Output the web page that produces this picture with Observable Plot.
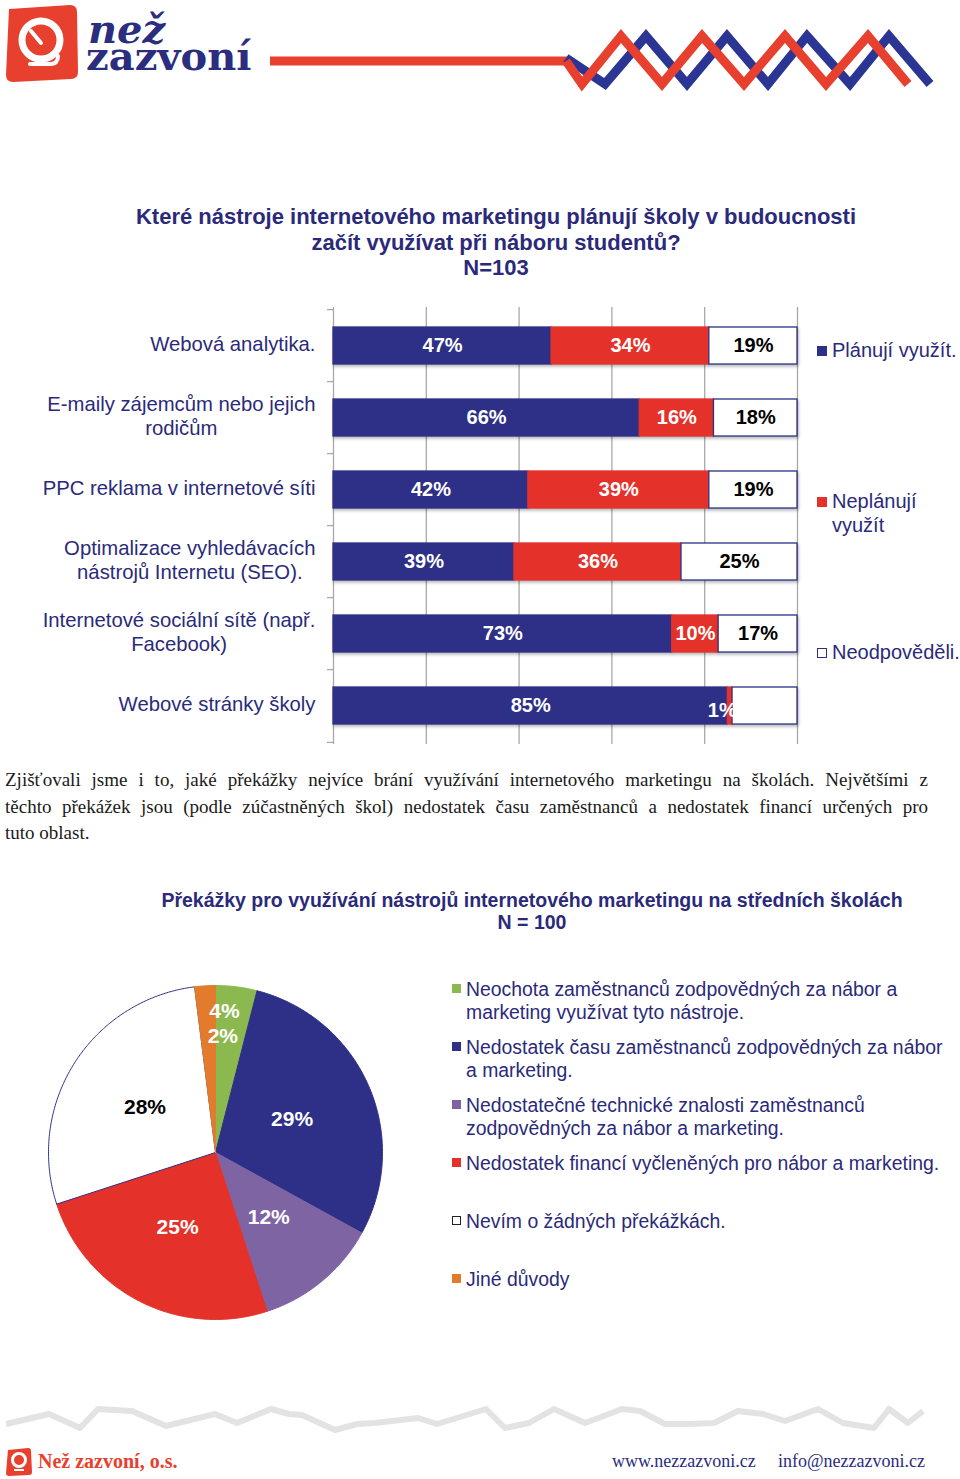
<!DOCTYPE html>
<html><head><meta charset="utf-8">
<script src="https://cdn.jsdelivr.net/npm/d3@7"></script>
<script src="https://cdn.jsdelivr.net/npm/@observablehq/plot@0.6"></script>
<style>
body{margin:0;background:#fff;}
#page{position:relative;width:960px;height:1479px;overflow:hidden;background:#fff;font-family:"Liberation Sans",Arial,sans-serif;color:#2b2a7a;}
.abs{position:absolute;}
.brand{left:86px;top:14.7px;font-family:"DejaVu Serif",serif;font-weight:bold;font-size:40px;line-height:27px;color:#2b2d7f;white-space:nowrap;}
.t1{left:32px;width:928px;top:204px;text-align:center;font-weight:bold;font-size:22px;line-height:25.5px;}
.t2{left:52px;width:960px;top:889px;text-align:center;font-weight:bold;font-size:19.5px;line-height:22px;}
.para{left:5px;width:923px;top:767px;font-family:"Liberation Serif","Times New Roman",serif;font-size:19px;line-height:26.5px;color:#1a1a1a;}
.para div.j{text-align:justify;text-align-last:justify;}
.lg{font-size:20px;line-height:24px;}
.sq{position:absolute;width:10px;height:10px;box-sizing:border-box;}
.plg{font-size:19.4px;line-height:22.5px;}
.psq{position:absolute;width:9px;height:9px;box-sizing:border-box;}
#bar g[aria-label="bar"]{filter:drop-shadow(1px 2px 1.5px rgba(0,0,0,0.28));}
.foot{font-family:"Liberation Serif","Times New Roman",serif;font-size:18px;}
</style></head><body><div id="page">

<svg class="abs" style="left:0;top:0" width="960" height="100">
  <path d="M9,9 L70,5 Q77,5 77,12 L78,72 Q78,79 71,79 L13,82 Q6,82 6,75 Z" fill="#e8402e"/>
  <circle cx="41" cy="40" r="19" fill="#e8402e" stroke="#fff" stroke-width="7"/>
  <line x1="41" y1="43" x2="31" y2="31" stroke="#fff" stroke-width="4" stroke-linecap="round"/>
  <path d="M30,64 L50,64 M50,64 Q58,64 58,56" stroke="#fff" stroke-width="4" fill="none" stroke-linecap="round"/>
  <line x1="270" y1="61" x2="568" y2="61" stroke="#e8402e" stroke-width="9"/>
  <polyline points="566,58 605,84 646,36 687,84 727,36 768,84 807,36 850,84 889,36 930,84" fill="none" stroke="#2b3594" stroke-width="9" stroke-linejoin="miter"/>
  <polyline points="566,61 582,84 621,36 662,84 702,36 744,84 785,36 826,84 868,36 908,84" fill="none" stroke="#e8402e" stroke-width="9" stroke-linejoin="miter"/>
</svg>
<div class="abs brand"><span style="font-style:italic;padding-left:2px;">než</span><br>zazvoní</div>

<div class="abs t1">Které nástroje internetového marketingu plánují školy v budoucnosti<br>začít využívat při náboru studentů?<br>N=103</div>

<div id="bar" class="abs" style="left:0;top:290px;"></div>

<div id="barLegend"></div>

<div class="abs para">
  <div class="j">Zjišťovali jsme i to, jaké překážky nejvíce brání využívání internetového marketingu na školách. Největšími z</div>
  <div class="j">těchto překážek jsou (podle zúčastněných škol) nedostatek času zaměstnanců a nedostatek financí určených pro</div>
  <div>tuto oblast.</div>
</div>

<div class="abs t2">Překážky pro využívání nástrojů internetového marketingu na středních školách<br>N = 100</div>

<div id="pie" class="abs" style="left:45px;top:982px;"></div>
<div id="pieLegend"></div>

<svg class="abs" style="left:0;top:1395px" width="960" height="84">
  <polyline transform="translate(0,-1395)" points="6,1424 49,1414 80,1428 98,1409 132,1411 166,1426 215,1414 237,1423 271,1409 289,1414 302,1415 335,1430 357,1424 375,1423 418,1418 437,1424 486,1409 505,1428 529,1423 554,1409 585,1423 622,1409 640,1411 665,1424 689,1424 714,1423 738,1411 763,1414 785,1421 818,1409 843,1423 874,1428 889,1409 908,1423 923,1411" fill="none" stroke="#e3e3e3" stroke-width="6" stroke-linejoin="round"/>
  <path transform="translate(0,-1395)" d="M8,1450 L28,1448 Q31,1448 31,1451 L32,1472 Q32,1475 29,1475 L9,1476 Q6,1476 6,1473 Z" fill="#e8402e"/>
  <circle transform="translate(0,-1395)" cx="19" cy="1460" r="6.5" fill="#e8402e" stroke="#fff" stroke-width="3"/>
  <line transform="translate(0,-1395)" x1="14" y1="1470" x2="24" y2="1470" stroke="#fff" stroke-width="2"/>
</svg>
<div class="abs foot" style="left:38px;top:1450px;color:#e8402e;font-weight:bold;font-size:20px;">Než zazvoní, o.s.</div>
<div class="abs foot" style="left:612px;top:1451px;color:#2b2d7f;">www.nezzazvoni.cz</div>
<div class="abs foot" style="left:778px;top:1451px;color:#2b2d7f;">info@nezzazvoni.cz</div>

</div>
<script>
// ---------- Data: bar chart ----------
const tools = [
  "Webová analytika.",
  "E-maily zájemcům nebo jejich\nrodičům",
  "PPC reklama v internetové síti",
  "Optimalizace vyhledávacích\nnástrojů Internetu (SEO).",
  "Internetové sociální sítě (např.\nFacebook)",
  "Webové stránky školy"
];
const seriesNames = ["Plánují využít.", "Neplánují\nvyužít", "Neodpověděli."];
const planuji      = [47, 66, 42, 39, 73, 85];
const neplanuji    = [34, 16, 39, 36, 10, 1];
const neodpovedeli = [19, 18, 19, 25, 17, 14];
const labelShown   = [[1,1,1],[1,1,1],[1,1,1],[1,1,1],[1,1,1],[1,1,0]];
const xTicks = [0, 20, 40, 60, 80, 100];

// ---------- Data: pie chart ----------
const causes = [
  "Neochota zaměstnanců zodpovědných za nábor a\nmarketing využívat tyto nástroje.",
  "Nedostatek času zaměstnanců zodpovědných za nábor\na marketing.",
  "Nedostatečné technické znalosti zaměstnanců\nzodpovědných za nábor a marketing.",
  "Nedostatek financí vyčleněných pro nábor a marketing.",
  "Nevím o žádných překážkách.",
  "Jiné důvody"
];
const causeValues = [4, 29, 12, 25, 28, 2];

// ---------- Styles ----------
const NAVY = "#2e3087", RED = "#e4322b", GRID = "#a8a8a8", TEXT = "#2b2a7a";
const seriesFill = [NAVY, RED, "#ffffff"];
const seriesText = ["white", "white", "black"];
const causeColors = ["#8cb94f", NAVY, "#7f64a4", RED, "#ffffff", "#e27c2c"];
const causeTextColors = ["white", "white", "white", "white", "black", "white"];
const FONT = "'Liberation Sans', Arial, sans-serif";

// ---------- Bar chart ----------
const rows = [];
tools.forEach((t, i) => {
  [planuji[i], neplanuji[i], neodpovedeli[i]].forEach((v, s) =>
    rows.push({tool: t, s, value: v, shown: labelShown[i][s]}));
});
const pct = d => d.value + "%";

const bar = Plot.plot({
  width: 960, height: 470,
  marginTop: 17, marginBottom: 16, marginLeft: 333, marginRight: 163,
  style: {fontFamily: FONT, fontSize: "20px", background: "transparent", color: TEXT, overflow: "visible"},
  x: {domain: [0, 100], axis: null},
  y: {domain: tools, axis: null, paddingInner: 0.49, paddingOuter: 0.245},
  color: {type: "identity"},
  marks: [
    Plot.gridX({ticks: xTicks, stroke: GRID, strokeOpacity: 1, strokeWidth: 1.3}),
    Plot.ruleY(tools, {y: d => d, x1: -1.3, x2: 0, dy: -36.4, stroke: GRID, strokeWidth: 1.3}),
    Plot.ruleY(tools.slice(-1), {y: d => d, x1: -1.3, x2: 0, dy: 36.4, stroke: GRID, strokeWidth: 1.3}),
    Plot.barX(rows, {x: "value", y: "tool", fill: d => seriesFill[d.s], stroke: d => d.s === 2 ? NAVY : seriesFill[d.s], strokeWidth: 1.3}),
    Plot.text(rows, Plot.stackX({x: "value", y: "tool", text: d => d.shown && d.value >= 5 ? pct(d) : "", fill: d => seriesText[d.s], fontWeight: "bold", fontSize: 20})),
    Plot.text(rows, Plot.stackX({x: "value", y: "tool", text: d => d.shown && d.value < 5 ? pct(d) : "", fill: d => seriesText[d.s], fontWeight: "bold", fontSize: 20, dx: -8, dy: 5})),
    Plot.axisY({tickSize: 0, tickPadding: 18, dy: -3, fill: TEXT, fontSize: 20.3, lineHeight: 1.2, label: null})
  ]
});
document.getElementById("bar").appendChild(bar);

// center multi-line tick labels within their block (as in the original)
bar.querySelectorAll('g[aria-label="y-axis tick label"] text').forEach(t => {
  const sp = t.querySelectorAll("tspan");
  if (sp.length > 1) {
    const w = t.getBBox().width;
    t.setAttribute("text-anchor", "middle");
    sp.forEach(s => s.setAttribute("x", -w / 2));
  }
});

// bar legend
const barLegend = document.getElementById("barLegend");
const barLegendTops = [338, 489, 640];
seriesNames.forEach((name, i) => {
  const sq = document.createElement("div");
  sq.className = "sq";
  sq.style.left = "817px";
  sq.style.top = (barLegendTops[i] + 8) + "px";
  sq.style.background = seriesFill[i];
  if (i === 2) sq.style.border = "1.3px solid " + NAVY;
  barLegend.appendChild(sq);
  const tx = document.createElement("div");
  tx.className = "abs lg";
  tx.style.left = "832px";
  tx.style.top = barLegendTops[i] + "px";
  tx.innerHTML = name.replace("\n", "<br>");
  barLegend.appendChild(tx);
});

// ---------- Pie chart ----------
const arcs = d3.pie().sort(null).value(d => d)(causeValues);
const piePts = [];
arcs.forEach((a, i) => {
  piePts.push({i, x: 0, y: 0});
  const n = Math.max(2, Math.ceil((a.endAngle - a.startAngle) / 0.01));
  for (let k = 0; k <= n; ++k) {
    const t = a.startAngle + (a.endAngle - a.startAngle) * k / n;
    piePts.push({i, x: Math.sin(t), y: Math.cos(t)});
  }
  piePts.push({i, x: 0, y: 0});
});
// label positions: centroid-ish at half radius; small slices stacked near the top
let smallRank = 0;
const pieLabelPos = arcs.map((a, i) => {
  let ang = (a.startAngle + a.endAngle) / 2, r = 0.5;
  if (causeValues[i] < 5) { ang = Math.PI * 2 * 0.01; r = smallRank === 0 ? 0.85 : 0.70; smallRank++; }
  return {i, x: Math.sin(ang) * r, y: Math.cos(ang) * r, label: causeValues[i] + "%"};
});

const pie = Plot.plot({
  width: 340, height: 340, margin: 3,
  style: {fontFamily: FONT, background: "transparent", overflow: "visible"},
  x: {domain: [-1, 1], axis: null},
  y: {domain: [-1, 1], axis: null},
  color: {type: "identity"},
  marks: [
    Plot.line(piePts, {x: "x", y: "y", z: "i", fill: d => causeColors[d.i], stroke: d => d.i === 4 ? NAVY : causeColors[d.i], strokeWidth: 1, strokeLinejoin: "round"}),
    Plot.text(pieLabelPos, {x: "x", y: "y", text: "label", fill: d => causeTextColors[d.i], fontWeight: "bold", fontSize: 21})
  ]
});
document.getElementById("pie").appendChild(pie);

// pie legend
const pieLegend = document.getElementById("pieLegend");
causes.forEach((c, i) => {
  const top = 978 + i * 58;
  const sq = document.createElement("div");
  sq.className = "psq";
  sq.style.left = "452px";
  sq.style.top = (top + 6) + "px";
  sq.style.background = causeColors[i];
  if (causeColors[i] === "#ffffff") sq.style.border = "1.2px solid #222";
  pieLegend.appendChild(sq);
  const tx = document.createElement("div");
  tx.className = "abs plg";
  tx.style.left = "466px";
  tx.style.top = top + "px";
  tx.innerHTML = c.replace("\n", "<br>");
  pieLegend.appendChild(tx);
});
</script>
</body></html>
